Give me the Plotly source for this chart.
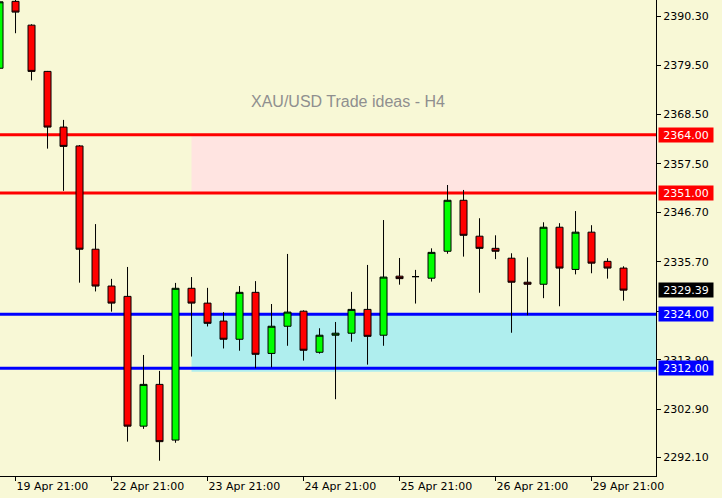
import plotly.graph_objects as go

# ---- data ----
times = [
    "19 Apr 17:00", "19 Apr 21:00",
    "22 Apr 01:00", "22 Apr 05:00", "22 Apr 09:00", "22 Apr 13:00", "22 Apr 17:00", "22 Apr 21:00",
    "23 Apr 01:00", "23 Apr 05:00", "23 Apr 09:00", "23 Apr 13:00", "23 Apr 17:00", "23 Apr 21:00",
    "24 Apr 01:00", "24 Apr 05:00", "24 Apr 09:00", "24 Apr 13:00", "24 Apr 17:00", "24 Apr 21:00",
    "25 Apr 01:00", "25 Apr 05:00", "25 Apr 09:00", "25 Apr 13:00", "25 Apr 17:00", "25 Apr 21:00",
    "26 Apr 01:00", "26 Apr 05:00", "26 Apr 09:00", "26 Apr 13:00", "26 Apr 17:00", "26 Apr 21:00",
    "29 Apr 01:00", "29 Apr 05:00", "29 Apr 09:00", "29 Apr 13:00", "29 Apr 17:00", "29 Apr 21:00",
    "30 Apr 01:00", "30 Apr 05:00",
]
opens = [2378.8, 2393.7, 2388.4, 2378.1, 2365.7, 2361.5, 2338.5, 2330.3, 2328.0, 2299.1,
         2308.4, 2296.0, 2329.8, 2326.5, 2322.5, 2318.45, 2328.9, 2315.3, 2321.35, 2324.7,
         2315.55, 2319.35, 2319.8, 2325.1, 2319.35, 2332.5, 2332.4, 2332.05, 2338.05, 2349.4,
         2341.4, 2338.7, 2336.5, 2331.15, 2330.7, 2343.4, 2334.0, 2342.3, 2335.8, 2334.3]
highs = [2394.5, 2395.5, 2388.6, 2378.2, 2367.3, 2361.7, 2344.1, 2331.9, 2334.55, 2314.95,
         2311.4, 2331.0, 2332.3, 2329.9, 2324.5, 2330.3, 2331.4, 2326.3, 2337.45, 2324.9,
         2320.9, 2322.3, 2329.0, 2335.0, 2345.0, 2336.55, 2333.9, 2338.7, 2352.8, 2351.7,
         2345.4, 2341.6, 2337.6, 2336.7, 2344.5, 2344.3, 2347.0, 2343.85, 2336.5, 2334.7]
lows = [2378.6, 2386.6, 2376.1, 2360.9, 2351.5, 2331.05, 2329.1, 2324.6, 2295.65, 2298.5,
        2291.4, 2295.4, 2314.6, 2321.3, 2316.4, 2315.9, 2312.0, 2312.2, 2317.0, 2313.7,
        2315.25, 2305.1, 2317.9, 2312.8, 2317.0, 2330.6, 2326.4, 2331.3, 2337.5, 2336.85,
        2328.8, 2336.3, 2319.9, 2323.8, 2327.6, 2325.8, 2332.9, 2333.15, 2331.95, 2327.05]
closes = [2393.6, 2391.3, 2378.1, 2365.7, 2361.4, 2338.5, 2330.3, 2326.5, 2299.1, 2308.4,
          2295.65, 2329.8, 2326.5, 2322.0, 2318.45, 2328.9, 2315.1, 2321.35, 2324.5, 2316.0,
          2319.35, 2319.8, 2325.1, 2319.1, 2332.3, 2331.95, 2332.4, 2337.8, 2349.4, 2341.6,
          2338.7, 2338.05, 2331.15, 2330.7, 2343.4, 2334.3, 2342.3, 2335.4, 2334.3, 2329.39]

x_tick_labels = ["19 Apr 21:00", "22 Apr 21:00", "23 Apr 21:00", "24 Apr 21:00",
                 "25 Apr 21:00", "26 Apr 21:00", "29 Apr 21:00"]
y_tick_values = [2390.30, 2379.50, 2368.50, 2357.50, 2346.70, 2335.70, 2324.70, 2313.90, 2302.90, 2292.10]

resistance_levels = [2364.00, 2351.00]
support_levels = [2324.00, 2312.00]
resistance_zone = (2351.00, 2364.00)
support_zone = (2311.20, 2324.00)
zone_start = "23 Apr 17:00"
last_price = 2329.39
title_text = "XAU/USD Trade ideas - H4"

# ---- figure ----
BG = "#F8F8D6"
FONT = "DejaVu Sans"

fig = go.Figure()
fig.add_trace(go.Candlestick(
    x=times, open=opens, high=highs, low=lows, close=closes,
    increasing=dict(fillcolor="#00FF00", line=dict(color="black", width=1)),
    decreasing=dict(fillcolor="#FF0000", line=dict(color="black", width=1)),
    whiskerwidth=0, showlegend=False, hoverinfo="skip",
))

n = len(times)
shapes = []
zi = times.index(zone_start)
shapes.append(dict(type="rect", xref="x", yref="y", x0=zi, x1=n + 5,
                   y0=resistance_zone[0], y1=resistance_zone[1],
                   fillcolor="#FFE4E1", line=dict(width=0), layer="below"))
shapes.append(dict(type="rect", xref="x", yref="y", x0=zi, x1=n + 5,
                   y0=support_zone[0], y1=support_zone[1],
                   fillcolor="#AFEEEE", line=dict(width=0), layer="below"))
for lv in resistance_levels:
    shapes.append(dict(type="line", xref="x", yref="y", x0=-2, x1=n + 5, y0=lv, y1=lv,
                       line=dict(color="#FF0000", width=3), layer="below"))
for lv in support_levels:
    shapes.append(dict(type="line", xref="x", yref="y", x0=-2, x1=n + 5, y0=lv, y1=lv,
                       line=dict(color="#0000FF", width=3), layer="below"))

annotations = []
def price_tag(v, bg):
    return dict(xref="paper", yref="y", x=1, y=v, xanchor="left", yanchor="middle",
                xshift=2, text=f"{v:.2f}", showarrow=False, bgcolor=bg,
                font=dict(family=FONT, size=11, color="white"),
                width=52, height=12, borderpad=1, align="center")
for lv in resistance_levels:
    annotations.append(price_tag(lv, "#FF0000"))
for lv in support_levels:
    annotations.append(price_tag(lv, "#0000FF"))
annotations.append(price_tag(last_price, "#000000"))
annotations.append(dict(xref="paper", yref="paper", x=0.5305, y=0.7863,
                        xanchor="center", yanchor="middle", text=title_text, showarrow=False,
                        font=dict(family="Liberation Sans", size=16, color="#8F8F8F")))

fig.update_layout(
    width=722, height=498,
    margin=dict(l=0, r=66, t=0, b=22, autoexpand=False),
    paper_bgcolor=BG, plot_bgcolor=BG,
    shapes=shapes, annotations=annotations,
    boxgap=0.375,
    font=dict(family=FONT, size=11, color="black"),
    xaxis=dict(type="category", range=[0.03, 41.03], rangeslider=dict(visible=False),
               tickvals=x_tick_labels, ticktext=x_tick_labels,
               ticks="outside", ticklen=4, tickcolor="black", tickwidth=1,
               ticklabelposition="outside right", automargin=False,
               showline=True, linecolor="black", linewidth=1,
               showgrid=False, zeroline=False, fixedrange=True),
    yaxis=dict(range=[2288.0, 2394.0], side="right", automargin=False,
               tickvals=y_tick_values, ticktext=[f"{v:.2f}" for v in y_tick_values],
               ticks="outside", ticklen=4, tickcolor="black", tickwidth=1,
               showline=True, linecolor="black", linewidth=1,
               showgrid=False, zeroline=False, fixedrange=True),
)

fig.write_html("out.html", config={"displayModeBar": False},
               post_script="document.body.style.margin='0';document.body.style.background='" + BG + "';")
